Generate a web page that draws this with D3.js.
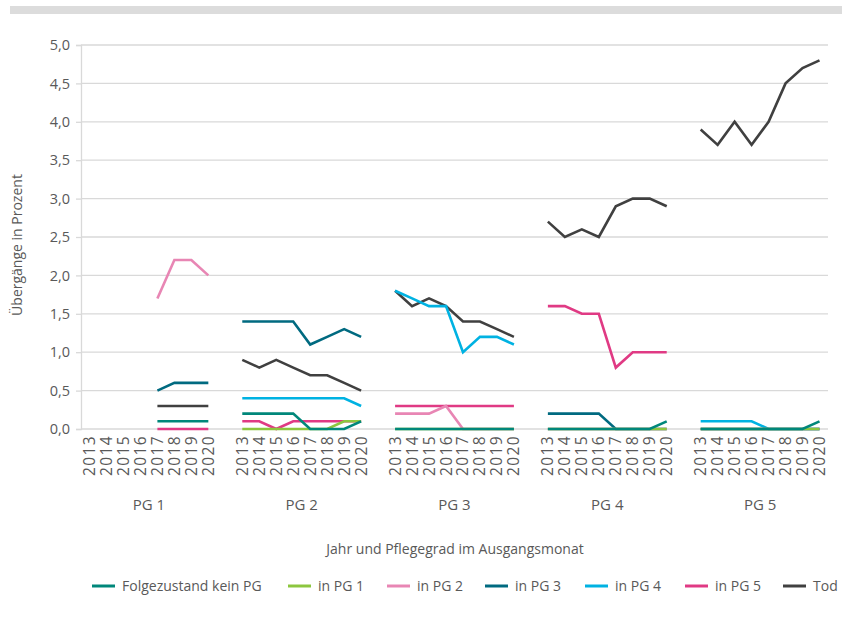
<!DOCTYPE html>
<html><head><meta charset="utf-8">
<script src="https://cdn.jsdelivr.net/npm/d3@7"></script>
<style>
body{margin:0;background:#fff;}
text{font-family:"Open Sans",sans-serif;fill:#595959;}
</style></head>
<body><svg id="c" width="844" height="622"></svg>
<script>
const groups = ["PG 1","PG 2","PG 3","PG 4","PG 5"];
const years = ["2013","2014","2015","2016","2017","2018","2019","2020"];
const yTicks = [0,0.5,1,1.5,2,2.5,3,3.5,4,4.5,5];
const seriesNames = ["Folgezustand kein PG","in PG 1","in PG 2","in PG 3","in PG 4","in PG 5","Tod"];
const seriesColors = ["#00877a","#8cc63f","#e886b4","#006a80","#00b2e2","#e03a84","#404040"];
const n = null;
// values per group: PG 1 | PG 2 | PG 3 | PG 4 | PG 5 (2013..2020 each)
const keinPG = [n,n,n,n,0.1,0.1,0.1,0.1, 0.2,0.2,0.2,0.2,0,0,0,0.1, 0,0,0,0,0,0,0,0, 0,0,0,0,0,0,0,0.1, 0,0,0,0,0,0,0,0.1];
const inPG1  = [n,n,n,n,n,n,n,n, 0,0,0,0,0,0,0.1,0.1, 0,0,0,0,0,0,0,0, 0,0,0,0,0,0,0,0, 0,0,0,0,0,0,0,0];
const inPG2  = [n,n,n,n,1.7,2.2,2.2,2.0, n,n,n,n,n,n,n,n, 0.2,0.2,0.2,0.3,0,0,0,0, 0,0,0,0,0,0,0,0, 0,0,0,0,0,0,0,0];
const inPG3  = [n,n,n,n,0.5,0.6,0.6,0.6, 1.4,1.4,1.4,1.4,1.1,1.2,1.3,1.2, n,n,n,n,n,n,n,n, 0.2,0.2,0.2,0.2,0,0,0,0, 0,0,0,0,0,0,0,0];
const inPG4  = [n,n,n,n,n,n,n,n, 0.4,0.4,0.4,0.4,0.4,0.4,0.4,0.3, 1.8,1.7,1.6,1.6,1.0,1.2,1.2,1.1, n,n,n,n,n,n,n,n, 0.1,0.1,0.1,0.1,0,0,0,0];
const inPG5  = [n,n,n,n,0,0,0,0, 0.1,0.1,0,0.1,0.1,0.1,0.1,0.1, 0.3,0.3,0.3,0.3,0.3,0.3,0.3,0.3, 1.6,1.6,1.5,1.5,0.8,1.0,1.0,1.0, n,n,n,n,n,n,n,n];
const tod    = [n,n,n,n,0.3,0.3,0.3,0.3, 0.9,0.8,0.9,0.8,0.7,0.7,0.6,0.5, 1.8,1.6,1.7,1.6,1.4,1.4,1.3,1.2, 2.7,2.5,2.6,2.5,2.9,3.0,3.0,2.9, 3.9,3.7,4.0,3.7,4.0,4.5,4.7,4.8];
const seriesValues = [keinPG,inPG1,inPG2,inPG3,inPG4,inPG5,tod];

const svg = d3.select("#c");
const L = 81, R = 828, T = 45, B = 429;

svg.append("rect").attr("x",10).attr("y",6).attr("width",832).attr("height",8).attr("fill","#dcdcdc");

const xg = d3.scaleBand().domain(groups).range([L,R]).paddingInner(1/9).paddingOuter(0);
const xy = d3.scalePoint().domain(years).range([0,xg.bandwidth()]).padding(0.5);
const y = d3.scaleLinear().domain([0,5]).range([B,T]);
const fmt = v => d3.format(".1f")(v).replace(".",",");

// gridlines
svg.append("g").selectAll("line").data(yTicks).join("line")
  .attr("x1",L).attr("x2",R).attr("y1",d=>y(d)).attr("y2",d=>y(d))
  .attr("stroke","#d9d9d9").attr("stroke-width",1.3);

// y axis
const ya = svg.append("g").attr("transform",`translate(${L},0)`)
  .call(d3.axisLeft(y).tickValues(yTicks).tickFormat(fmt).tickSize(5).tickPadding(6));
ya.select(".domain").attr("stroke","#d9d9d9").attr("stroke-width",1.3);
ya.selectAll(".tick line").attr("stroke","#d9d9d9").attr("stroke-width",1.3);
ya.selectAll("text").style("font-size","14.5px").attr("fill","#595959").style("font-family","'Open Sans',sans-serif");

// x year labels
groups.forEach(g=>{
  const gg = svg.append("g");
  gg.selectAll("text").data(years).join("text")
    .attr("transform",d=>`translate(${xg(g)+xy(d)+5.5},${B+6}) rotate(-90)`)
    .attr("text-anchor","end").style("font-size","15.5px").style("letter-spacing","1.4px").text(d=>d);
  svg.append("text").attr("x",xg(g)+xg.bandwidth()/2).attr("y",510)
    .attr("text-anchor","middle").style("font-size","15px").text(g);
});

svg.append("text").attr("x",455).attr("y",554).attr("text-anchor","middle")
  .style("font-size","14px").text("Jahr und Pflegegrad im Ausgangsmonat");
svg.append("text").attr("transform","translate(22,245) rotate(-90)").attr("text-anchor","middle")
  .style("font-size","14px").text("Übergänge in Prozent");

// lines (drawn in reverse legend order)
const line = d3.line().defined(d=>d.v!==null).x(d=>d.x).y(d=>y(d.v));
for(let s=seriesNames.length-1;s>=0;s--){
  groups.forEach((g,gi)=>{
    const pts = years.map((yr,i)=>({x:xg(g)+xy(yr), v:seriesValues[s][gi*8+i]}));
    if(pts.every(p=>p.v===null)) return;
    svg.append("path").datum(pts).attr("d",line).attr("fill","none")
      .attr("stroke",seriesColors[s]).attr("stroke-width",2.6);
  });
}

// legend
const legX = [92,288,387,485,585,685,783];
const lg = svg.append("g");
seriesNames.forEach((name,i)=>{
  lg.append("line").attr("x1",legX[i]).attr("x2",legX[i]+23).attr("y1",586).attr("y2",586)
    .attr("stroke",seriesColors[i]).attr("stroke-width",3);
  lg.append("text").attr("x",legX[i]+30).attr("y",591).style("font-size","14px").text(name);
});
</script></body></html>
